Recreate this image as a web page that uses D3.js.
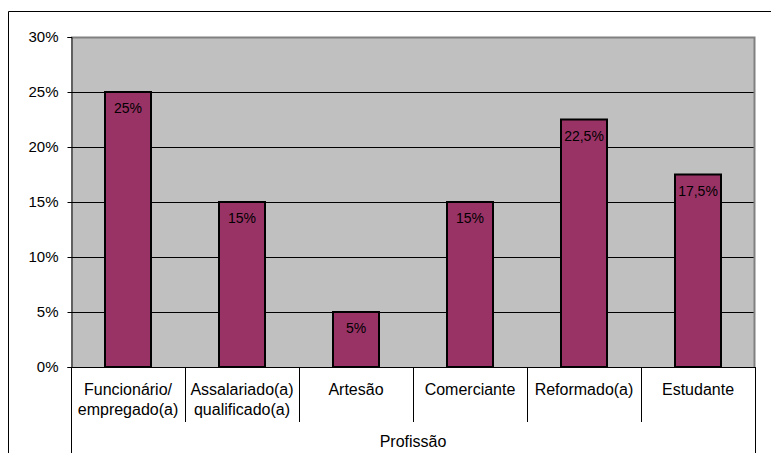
<!DOCTYPE html>
<html>
<head>
<meta charset="utf-8">
<script src="https://cdn.jsdelivr.net/npm/d3@7"></script>
<style>
  html, body { margin: 0; padding: 0; background: #fff; }
  svg { display: block; font-family: "Liberation Sans", Arial, sans-serif; }
</style>
</head>
<body>
<svg id="chart" width="771" height="453"></svg>
<script>
// Profession distribution (share of respondents)
const categories = [
  ["Funcionário/", "empregado(a)"],
  ["Assalariado(a)", "qualificado(a)"],
  ["Artesão"],
  ["Comerciante"],
  ["Reformado(a)"],
  ["Estudante"]
];
const values = [25, 15, 5, 15, 22.5, 17.5];
const valueLabels = ["25%", "15%", "5%", "15%", "22,5%", "17,5%"];
const yTicks = [0, 5, 10, 15, 20, 25, 30];
const axisTitle = "Profissão";

const svg = d3.select("#chart");
const W = 771, H = 453;
const plot = { left: 71, right: 755, top: 37, bottom: 367 };

// outer frame
svg.append("path")
  .attr("d", `M8.5,${H} V11.5 H${W}`)
  .attr("fill", "none").attr("stroke", "#000").attr("stroke-width", 1);

const x = d3.scaleBand()
  .domain(d3.range(categories.length))
  .range([plot.left, plot.right])
  .paddingInner(0).paddingOuter(0);

const y = d3.scaleLinear().domain([0, 30]).range([plot.bottom, plot.top]);

// plot background
svg.append("rect")
  .attr("x", plot.left).attr("y", plot.top)
  .attr("width", plot.right - plot.left).attr("height", plot.bottom - plot.top)
  .attr("fill", "#c0c0c0");

// gridlines
svg.append("g").selectAll("line")
  .data(yTicks.filter(t => t > 0 && t < 30))
  .join("line")
  .attr("x1", plot.left).attr("x2", plot.right)
  .attr("y1", d => Math.round(y(d)) + 0.5).attr("y2", d => Math.round(y(d)) + 0.5)
  .attr("stroke", "#000").attr("stroke-width", 1);

// plot border top/right in gray
svg.append("path")
  .attr("d", `M${plot.left},${plot.top + 0.5} H${plot.right - 0.5} V${plot.bottom}`)
  .attr("fill", "none").attr("stroke", "#808080").attr("stroke-width", 2);

// y axis
const yAxis = d3.axisLeft(y)
  .tickValues(yTicks)
  .tickFormat(d => d + "%")
  .tickSize(4).tickPadding(9);
const gy = svg.append("g")
  .attr("transform", `translate(${plot.left + 0.5},0)`)
  .call(yAxis);
gy.select(".domain").attr("stroke", "#000");
gy.selectAll(".tick line").attr("stroke", "#000");
gy.selectAll(".tick text")
  .attr("font-size", 15).attr("fill", "#000")
  .attr("font-family", "Liberation Sans, Arial, sans-serif");

// bars
const barW = 46;
svg.append("g").selectAll("rect")
  .data(values)
  .join("rect")
  .attr("x", (d, i) => x(i) + x.bandwidth() / 2 - barW / 2)
  .attr("y", d => y(d))
  .attr("width", barW)
  .attr("height", d => y(0) - y(d))
  .attr("fill", "#993366")
  .attr("stroke", "#000").attr("stroke-width", 2);

// value labels
svg.append("g").selectAll("text")
  .data(values)
  .join("text")
  .attr("x", (d, i) => x(i) + x.bandwidth() / 2)
  .attr("y", d => y(d) + 21)
  .attr("text-anchor", "middle")
  .attr("font-size", 14).attr("fill", "#000")
  .text((d, i) => valueLabels[i]);

// x axis baseline
svg.append("line")
  .attr("x1", plot.left).attr("x2", plot.right)
  .attr("y1", plot.bottom + 0.5).attr("y2", plot.bottom + 0.5)
  .attr("stroke", "#000");

// category separators
const bounds = d3.range(categories.length + 1).map(i =>
  i < categories.length ? x(i) : plot.right);
svg.append("g").selectAll("line")
  .data(bounds)
  .join("line")
  .attr("x1", d => Math.round(d) + 0.5).attr("x2", d => Math.round(d) + 0.5)
  .attr("y1", plot.bottom)
  .attr("y2", (d, i) => (i === 0 || i === categories.length) ? H : 422)
  .attr("stroke", "#000");

// category labels
const cl = svg.append("g").selectAll("text")
  .data(categories)
  .join("text")
  .attr("text-anchor", "middle")
  .attr("font-size", 16).attr("fill", "#000");
cl.each(function(lines, i) {
  const t = d3.select(this);
  lines.forEach((ln, k) => {
    t.append("tspan")
      .attr("x", x(i) + x.bandwidth() / 2)
      .attr("y", 395 + k * 20)
      .text(ln);
  });
});

// axis title
svg.append("text")
  .attr("x", (plot.left + plot.right) / 2)
  .attr("y", 447)
  .attr("text-anchor", "middle")
  .attr("font-size", 16).attr("fill", "#000")
  .text(axisTitle);
</script>
</body>
</html>
